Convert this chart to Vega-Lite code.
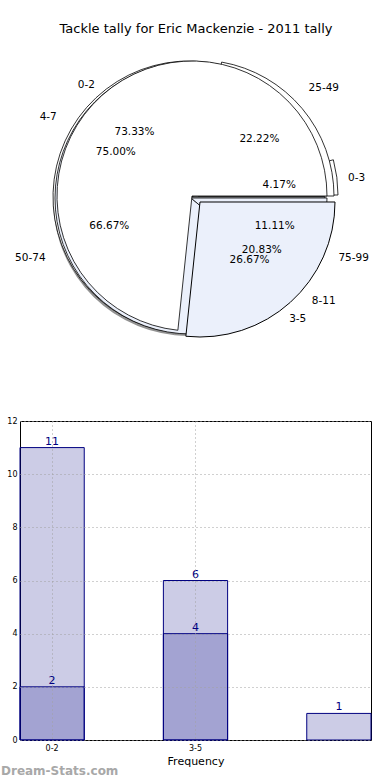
{
  "$schema": "https://vega.github.io/schema/vega-lite/v6.json",
  "padding": {"top": 23, "left": 0, "right": 5, "bottom": 5},
  "bounds": "flush",
  "spacing": 79,
  "config": {"font": "DejaVu Sans"},
  "datasets": {
    "pies": [
      {"pie": 1, "label": "0-2", "share": 0.7333, "order": 1},
      {"pie": 1, "label": "3-5", "share": 0.2667, "order": 2},
      {"pie": 2, "label": "0-3", "share": 0.0417, "order": 1},
      {"pie": 2, "label": "4-7", "share": 0.75, "order": 2},
      {"pie": 2, "label": "8-11", "share": 0.2083, "order": 3},
      {"pie": 3, "label": "25-49", "share": 0.2222, "order": 1},
      {"pie": 3, "label": "50-74", "share": 0.6667, "order": 2},
      {"pie": 3, "label": "75-99", "share": 0.1111, "order": 3}
    ],
    "bars": [
      {"freq": "0-2", "series": "all", "count": 11},
      {"freq": "3-5", "series": "all", "count": 6},
      {"freq": "6-8", "series": "all", "count": 1},
      {"freq": "0-2", "series": "part", "count": 2},
      {"freq": "3-5", "series": "part", "count": 4}
    ]
  },
  "vconcat": [
    {
      "width": 344,
      "height": 292,
      "view": {"stroke": null},
      "title": {"text": "Tackle tally for Eric Mackenzie - 2011 tally", "fontSize": 13, "fontWeight": "normal", "font": "DejaVu Sans", "color": "black", "anchor": "middle", "frame": "group", "offset": 14, "dx": 4},
      "data": {"name": "pies"},
      "encoding": {
        "theta": {"field": "share", "type": "quantitative", "stack": true, "scale": {"domain": [0, 1], "range": [1.5708, -4.7124]}},
        "order": {"field": "order", "type": "quantitative"}
      },
      "layer": [
        {"transform": [{"filter": "datum.pie == 1"}], "mark": {"type": "arc", "outerRadius": 136, "fill": "#6e6e6e", "opacity": 0.75, "xOffset": -3, "yOffset": 4}},
        {"transform": [{"filter": "datum.pie == 2"}], "mark": {"type": "arc", "outerRadius": 136, "stroke": "black", "strokeWidth": 0.8, "xOffset": -3, "yOffset": 1},
         "encoding": {"fill": {"condition": {"test": "datum.label == '4-7'", "value": "white"}, "value": "#ebf0fb"}, "opacity": {"condition": {"test": "datum.label == '0-3'", "value": 0}, "value": 1}}},
        {"transform": [{"filter": "datum.pie == 2"}], "mark": {"type": "arc", "outerRadius": 136, "stroke": "black", "strokeWidth": 0.8, "fill": "white", "xOffset": 10, "yOffset": -1},
         "encoding": {"opacity": {"condition": {"test": "datum.label == '0-3'", "value": 1}, "value": 0}}},
        {"transform": [{"filter": "datum.pie == 3"}], "mark": {"type": "arc", "outerRadius": 136, "stroke": "black", "strokeWidth": 0.8, "fill": "#ebf0fb", "xOffset": -1, "yOffset": 2},
         "encoding": {"opacity": {"condition": {"test": "datum.label == '25-49'", "value": 0}, "value": 1}}},
        {"transform": [{"filter": "datum.pie == 3"}], "mark": {"type": "arc", "outerRadius": 136, "stroke": "black", "strokeWidth": 0.8, "fill": "white", "xOffset": 6},
         "encoding": {"opacity": {"condition": {"test": "datum.label == '25-49'", "value": 1}, "value": 0}}},
        {"transform": [{"filter": "datum.pie == 1"}], "mark": {"type": "arc", "outerRadius": 135, "stroke": "black", "strokeWidth": 0.8, "fill": "white"},
         "encoding": {"opacity": {"condition": {"test": "datum.label == '0-2'", "value": 1}, "value": 0}}},
        {"transform": [{"filter": "datum.pie == 1"}], "mark": {"type": "arc", "outerRadius": 135, "stroke": "black", "strokeWidth": 1, "fill": "#ebf0fb", "xOffset": 8, "yOffset": 6},
         "encoding": {"opacity": {"condition": {"test": "datum.label == '3-5'", "value": 1}, "value": 0}}},
        {"transform": [{"filter": "datum.pie == 1"}], "mark": {"type": "text", "radius": 86, "fontSize": 10.5, "font": "DejaVu Sans", "color": "black"},
         "encoding": {"text": {"field": "share", "type": "quantitative", "format": ".2%"}}},
        {"transform": [{"filter": "datum.pie == 2"}], "mark": {"type": "text", "radius": 88, "fontSize": 10.5, "font": "DejaVu Sans", "color": "black"},
         "encoding": {"text": {"field": "share", "type": "quantitative", "format": ".2%"}}},
        {"transform": [{"filter": "datum.pie == 3"}], "mark": {"type": "text", "radius": 88, "fontSize": 10.5, "font": "DejaVu Sans", "color": "black"},
         "encoding": {"text": {"field": "share", "type": "quantitative", "format": ".2%"}}},
        {"transform": [{"filter": "datum.pie == 1"}], "mark": {"type": "text", "radius": 158, "fontSize": 10.5, "font": "DejaVu Sans", "color": "black", "yOffset": 6},
         "encoding": {"text": {"field": "label", "type": "nominal"}}},
        {"transform": [{"filter": "datum.pie == 2"}], "mark": {"type": "text", "radius": 166, "fontSize": 10.5, "font": "DejaVu Sans", "color": "black", "yOffset": 4},
         "encoding": {"text": {"field": "label", "type": "nominal"}}},
        {"transform": [{"filter": "datum.pie == 3"}], "mark": {"type": "text", "radius": 172, "fontSize": 10.5, "font": "DejaVu Sans", "color": "black", "yOffset": 3},
         "encoding": {"text": {"field": "label", "type": "nominal"}}}
      ]
    },
    {
      "width": 351,
      "height": 319,
      "view": {"stroke": "black", "strokeWidth": 1},
      "title": {"text": "Dream-Stats.com", "orient": "bottom", "anchor": "start", "frame": "group", "dx": -19, "offset": 0, "fontSize": 12, "fontWeight": "bold", "font": "DejaVu Sans", "color": "#a8a8a8"},
      "data": {"name": "bars"},
      "encoding": {
        "x": {"field": "freq", "type": "nominal", "sort": ["0-2", "3-5", "6-8"],
              "scale": {"paddingInner": 0.552, "paddingOuter": 0},
              "axis": {"values": ["0-2", "3-5"], "bandPosition": 0.5, "labelAngle": 0, "grid": true, "gridDash": [1, 3], "gridColor": "#a0a0a0", "domain": false, "ticks": false, "labelFontSize": 8, "labelColor": "black", "labelFont": "DejaVu Sans", "labelPadding": 4, "title": "Frequency", "titleFontSize": 11, "titleFont": "DejaVu Sans", "titleFontWeight": "normal", "titleColor": "black", "titlePadding": 3, "zindex": 1}},
        "y": {"field": "count", "type": "quantitative", "stack": null,
              "scale": {"domain": [0, 12], "nice": false},
              "axis": {"values": [0, 2, 4, 6, 8, 10, 12], "grid": true, "gridDash": [1, 3], "gridColor": "#a0a0a0", "domain": false, "ticks": false, "labelFontSize": 8, "labelColor": "black", "labelFont": "DejaVu Sans", "labelPadding": 3, "title": null, "zindex": 1}}
      },
      "layer": [
        {"mark": {"type": "bar", "fill": "#000080", "fillOpacity": 0.2, "stroke": "#000080", "strokeWidth": 1}},
        {"mark": {"type": "text", "baseline": "bottom", "dy": -1, "color": "#000080", "fontSize": 11, "font": "DejaVu Sans"},
         "encoding": {"text": {"field": "count", "type": "quantitative"}}}
      ]
    }
  ]
}
